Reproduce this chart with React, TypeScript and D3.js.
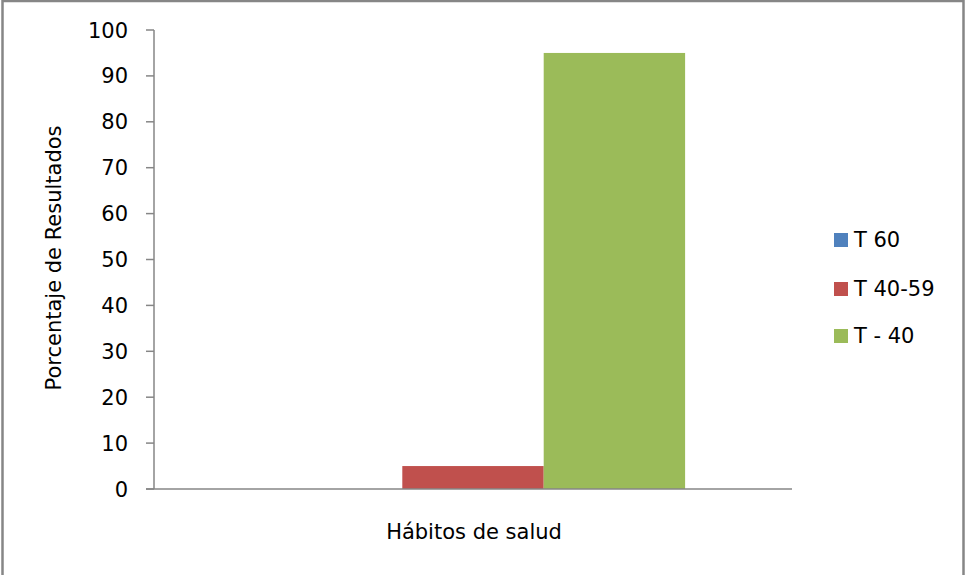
import React from "react";
import * as d3 from "d3";

const categories = ["Hábitos de salud"];
const seriesNames = ["T 60", "T 40-59", "T - 40"];
const seriesColors = ["#4f81bd", "#c0504d", "#9bbb59"];
const seriesValues = [[0], [5], [95]];
const yTicks = [0, 10, 20, 30, 40, 50, 60, 70, 80, 90, 100];
const yTitle = "Porcentaje de Resultados";

const W = 965;
const H = 575;
const FONT = "'DejaVu Sans', sans-serif";
const AXIS = "#868686";

export default function App() {
  const left = 154, right = 792, top = 30, bottom = 489;
  const y = d3.scaleLinear().domain([0, 100]).range([bottom, top]);
  const x0 = d3.scaleBand().domain(categories).range([left, right]).paddingInner(0).paddingOuter(0.252);
  const x1 = d3.scaleBand().domain(seriesNames).range([0, x0.bandwidth()]).padding(0);

  return (
    <svg width={W} height={H} style={{ position: "absolute", left: 0, top: 0, background: "#fff" }} fontFamily={FONT}>
      <rect x={0} y={0} width={W} height={H} fill="#fff" />
      <rect x={2.5} y={1} width={961} height={580} fill="none" stroke={AXIS} strokeWidth={2.5} />
      {categories.map((c, ci) =>
        seriesNames.map((s, si) => {
          const v = seriesValues[si][ci];
          const bx = (x0(c) as number) + (x1(s) as number);
          return (
            <rect key={c + s} x={bx} y={y(v)} width={x1.bandwidth()} height={bottom - y(v)} fill={seriesColors[si]} />
          );
        })
      )}
      <line x1={left} x2={left} y1={top} y2={bottom} stroke={AXIS} strokeWidth={1.5} />
      <line x1={left - 8} x2={right} y1={bottom} y2={bottom} stroke={AXIS} strokeWidth={1.5} />
      {yTicks.map((t) => (
        <g key={t}>
          <line x1={left - 8} x2={left} y1={y(t)} y2={y(t)} stroke={AXIS} strokeWidth={1.5} />
          <text x={128} y={y(t)} dy="0.36em" textAnchor="end" fontSize={21} fill="#000">
            {t}
          </text>
        </g>
      ))}
      <text transform={`translate(60.5,258) rotate(-90)`} textAnchor="middle" fontSize={21} fill="#000">
        {yTitle}
      </text>
      {categories.map((c) => (
        <text key={c} x={(x0(c) as number) + x0.bandwidth() / 2 + 1} y={539} textAnchor="middle" fontSize={21} fill="#000">
          {c}
        </text>
      ))}
      {seriesNames.map((s, i) => {
        const by = [247, 296, 343][i];
        return (
          <g key={s}>
            <rect x={834} y={by - 14} width={14} height={14} fill={seriesColors[i]} />
            <text x={854} y={by} fontSize={21} fill="#000">
              {s}
            </text>
          </g>
        );
      })}
    </svg>
  );
}
